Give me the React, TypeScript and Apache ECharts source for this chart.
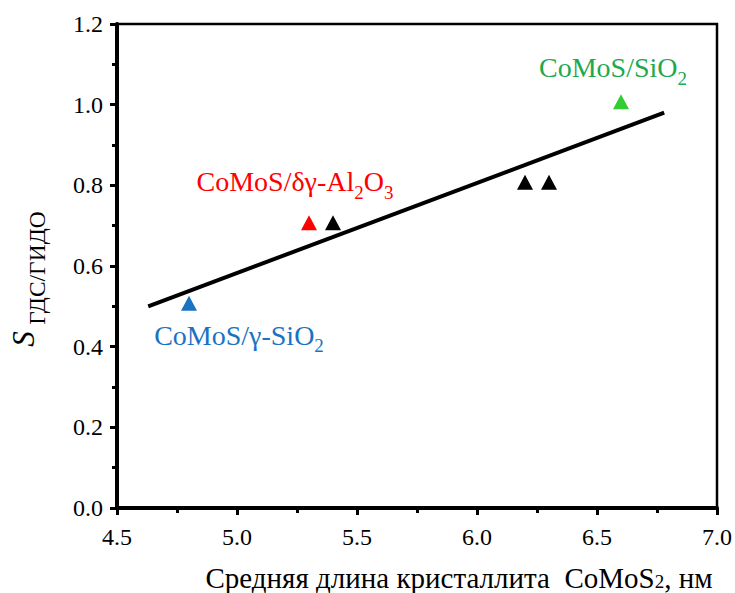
import React, { useEffect, useRef } from "react";
import * as echarts from "echarts";

const FONT = '"Liberation Serif", "Times New Roman", serif';

// Points (x = mean CoMoS2 crystallite length, nm; y = S ratio)
const blackX = [5.4, 6.2, 6.3];
const blackY = [0.7, 0.8, 0.8];
const blueX = [4.8];
const blueY = [0.5];
const redX = [5.3];
const redY = [0.7];
const greenX = [6.6];
const greenY = [1.0];
const fitX = [4.63, 6.78];
const fitY = [0.5, 0.98];

const xTicks = { min: 4.5, max: 7.0, step: 0.5 };
const yTicks = { min: 0, max: 1.2, step: 0.2 };

const pairs = (xs: number[], ys: number[]) => xs.map((x, i) => [x, ys[i]]);

// rich styles: "a" normal text, "b" subscript pushed down by top padding
const subRich = (color: string, size: number, sub: number, pad: number) => ({
  a: { fontFamily: FONT, fontSize: size, color, lineHeight: size },
  b: { fontFamily: FONT, fontSize: sub, color, lineHeight: sub, padding: [pad, 0, 0, 0] },
});

export default function App() {
  const ref = useRef<HTMLDivElement>(null);
  useEffect(() => {
    if (!ref.current) return;
    const chart = echarts.init(ref.current, undefined, { renderer: "svg" });
    const triangle = "triangle";
    const symOffset = [0, -3];
    const axisCommon = {
      splitLine: { show: false },
      axisLine: { show: true, onZero: false, lineStyle: { color: "#000", width: 4 } },
      axisTick: { show: true, inside: false, length: 7, lineStyle: { color: "#000", width: 3 } },
      minorTick: { show: true, splitNumber: 2, length: 5, lineStyle: { color: "#000", width: 3 } },
      axisLabel: {
        color: "#000",
        fontFamily: FONT,
        fontSize: 24,
        formatter: (v: number) => v.toFixed(1),
      },
    };
    const option: any = {
      animation: false,
      backgroundColor: "#fff",
      textStyle: { fontFamily: FONT },
      grid: {
        left: 117,
        right: 8,
        top: 24,
        bottom: 85,
        show: true,
        borderColor: "#000",
        borderWidth: 2.5,
        containLabel: false,
      },
      xAxis: {
        type: "value",
        min: xTicks.min,
        max: xTicks.max,
        interval: xTicks.step,
        ...axisCommon,
        axisLabel: { ...axisCommon.axisLabel, margin: 17 },
      },
      yAxis: {
        type: "value",
        min: yTicks.min,
        max: yTicks.max,
        interval: yTicks.step,
        ...axisCommon,
        axisLabel: { ...axisCommon.axisLabel, margin: 14 },
      },
      series: [
        {
          type: "line",
          data: pairs(fitX, fitY),
          showSymbol: false,
          symbol: "none",
          lineStyle: { color: "#000", width: 4 },
          z: 2,
        },
        {
          type: "scatter",
          data: pairs(blackX, blackY),
          symbol: triangle,
          symbolSize: [16, 15],
          symbolOffset: symOffset,
          itemStyle: { color: "#000", opacity: 1 },
          z: 3,
        },
        {
          type: "scatter",
          data: pairs(blueX, blueY),
          symbol: triangle,
          symbolSize: [16, 15],
          symbolOffset: symOffset,
          itemStyle: { color: "#1a72c2", opacity: 1 },
          label: {
            show: true,
            position: "inside",
            offset: [50, 32],
            formatter: "{a|CoMoS/γ-SiO}{b|2}",
            rich: subRich("#1a72c2", 28, 19, 21),
          },
          z: 3,
        },
        {
          type: "scatter",
          data: pairs(redX, redY),
          symbol: triangle,
          symbolSize: [16, 15],
          symbolOffset: symOffset,
          itemStyle: { color: "#ff0000", opacity: 1 },
          label: {
            show: true,
            position: "inside",
            offset: [-14, -41],
            formatter: "{a|CoMoS/δγ-Al}{b|2}{a|O}{b|3}",
            rich: subRich("#ff0000", 28, 19, 21),
          },
          z: 3,
        },
        {
          type: "scatter",
          data: pairs(greenX, greenY),
          symbol: triangle,
          symbolSize: [16, 15],
          symbolOffset: symOffset,
          itemStyle: { color: "#33cc33", opacity: 1 },
          label: {
            show: true,
            position: "inside",
            offset: [-8, -34],
            formatter: "{a|CoMoS/SiO}{b|2}",
            rich: subRich("#1ea84f", 28, 19, 21),
          },
          z: 3,
        },
      ],
      graphic: [
        {
          type: "text",
          x: 459,
          y: 578,
          style: {
            text: "{a|Средняя длина кристаллита  CoMoS}{b|2}{a|, нм}",
            align: "center",
            verticalAlign: "middle",
            rich: subRich("#000", 29, 19, 6),
          },
        },
        {
          type: "text",
          x: 23,
          y: 339,
          rotation: Math.PI / 2,
          style: {
            text: "S",
            fontFamily: FONT,
            fontStyle: "italic",
            fontSize: 31,
            fill: "#000",
            align: "center",
            verticalAlign: "middle",
          },
        },
        {
          type: "text",
          x: 37,
          y: 268,
          rotation: Math.PI / 2,
          style: {
            text: "ГДС/ГИДО",
            fontFamily: FONT,
            fontSize: 23.5,
            fill: "#000",
            align: "center",
            verticalAlign: "middle",
          },
        },
      ],
    };
    chart.setOption(option);
    return () => chart.dispose();
  }, []);
  return (
    <div
      ref={ref}
      style={{ position: "fixed", left: 0, top: 0, width: 735, height: 593, background: "#fff" }}
    />
  );
}
